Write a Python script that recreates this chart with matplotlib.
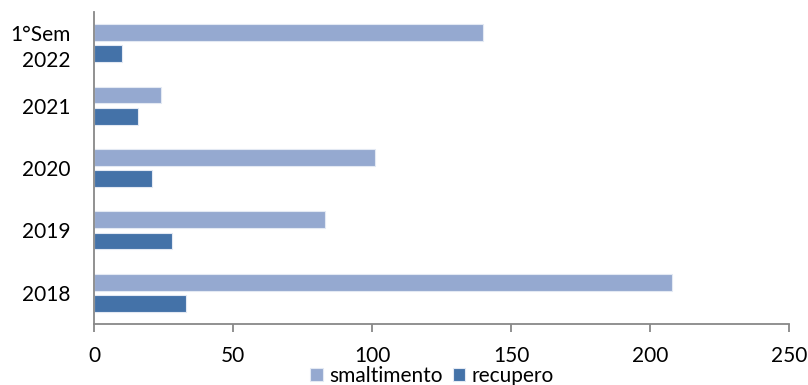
import numpy as np
import matplotlib.pyplot as plt

# categories (bottom to top) and values for each series
periodi = ['2018', '2019', '2020', '2021', '1°Sem\n2022']
smaltimento = [208, 83, 101, 24, 140]
recupero = [33, 28, 21, 16, 10]

col_smalt = '#95A9D0'
col_recup = '#4472A8'

plt.rcParams['font.family'] = ['Lato', 'DejaVu Sans']

fig = plt.figure(figsize=(8.08, 3.85), dpi=100)
ax = fig.add_axes([94 / 808, 1 - 324 / 385, 695 / 808, 312 / 385])

y = np.arange(len(periodi))
h = 0.27
off = 0.17
ax.barh(y + off, smaltimento, height=h, color=col_smalt,
        edgecolor='#e3e9f3', linewidth=0.8, label='smaltimento')
ax.barh(y - off, recupero, height=h, color=col_recup,
        edgecolor='#e3e9f3', linewidth=0.8, label='recupero')

ax.set_xlim(0, 250)
ax.set_ylim(-0.5, len(periodi) - 0.5)
ax.set_xticks([0, 50, 100, 150, 200, 250])
ax.set_yticks(y)
ax.set_yticklabels(periodi, ha='right', linespacing=1.35)

for s in ['top', 'right']:
    ax.spines[s].set_visible(False)
for s in ['left', 'bottom']:
    ax.spines[s].set_color('#888888')
    ax.spines[s].set_linewidth(1.3)

ax.tick_params(axis='x', direction='out', length=6, width=1.3,
               color='#888888', pad=10, labelsize=15)
ax.tick_params(axis='y', length=0, pad=17, labelsize=15)

# legend sits right at the bottom edge, under the tick labels
fig.legend(loc='center', bbox_to_anchor=(432 / 808, 1 - 375.5 / 385),
           ncol=2, frameon=False, fontsize=15, handlelength=0.6,
           handleheight=0.6, handletextpad=0.3, columnspacing=0.5)

plt.savefig('out.png', dpi=100)
